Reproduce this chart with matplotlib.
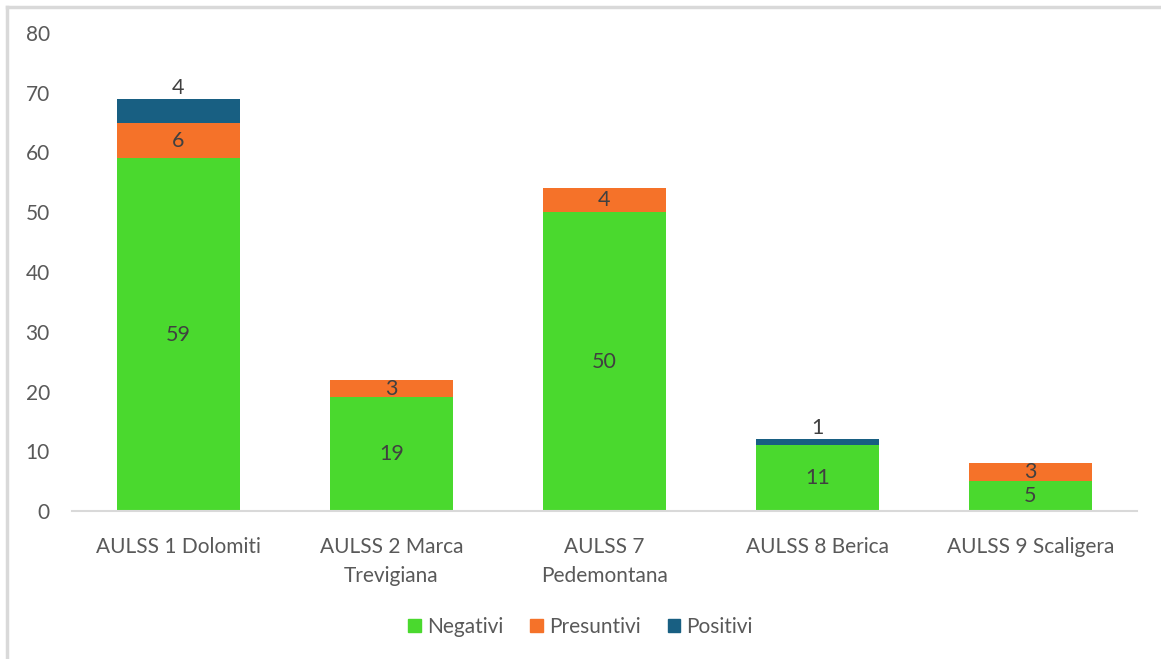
import matplotlib
matplotlib.use("Agg")

import matplotlib.pyplot as plt
import numpy as np
from matplotlib.lines import Line2D

# data
categories = ["AULSS 1 Dolomiti", "AULSS 2 Marca\nTrevigiana", "AULSS 7\nPedemontana",
              "AULSS 8 Berica", "AULSS 9 Scaligera"]
negativi = [59, 19, 50, 11, 5]
presuntivi = [6, 3, 4, 0, 3]
positivi = [4, 0, 0, 1, 0]

series_names = ["Negativi", "Presuntivi", "Positivi"]
colors = ["#4ad92e", "#f57229", "#185f82"]

plt.rcParams["font.family"] = ["Lato", "DejaVu Sans"]

fig = plt.figure(figsize=(11.61, 6.59), dpi=100)
ax = fig.add_axes([72 / 1161, 1 - 511 / 659, (1137 - 72) / 1161, (511 - 33) / 659])

x = np.arange(len(categories))
width = 0.573
label_color = "#404040"

bottom = np.zeros(len(categories))
for vals, name, col in zip([negativi, presuntivi, positivi], series_names, colors):
    vals = np.array(vals, dtype=float)
    ax.bar(x, vals, width, bottom=bottom, color=col, label=name, zorder=2)
    for i, v in enumerate(vals):
        if v <= 0:
            continue
        if name == "Positivi":
            ax.text(x[i], bottom[i] + v + 0.2, f"{int(v)}", ha="center", va="bottom",
                    fontsize=15.5, color=label_color)
        else:
            ax.text(x[i], bottom[i] + v / 2, f"{int(v)}", ha="center", va="center",
                    fontsize=15.5, color=label_color)
    bottom += vals

ax.set_xlim(-0.5, len(categories) - 0.5)
ax.set_ylim(0, 80)
ax.set_yticks(range(0, 81, 10))
ax.set_xticks(x)
ax.set_xticklabels(categories, linespacing=1.55)
ax.tick_params(axis="both", length=0, labelsize=15, colors="#595959")
ax.tick_params(axis="y", pad=16)
ax.tick_params(axis="x", pad=19)

for s in ["top", "right", "left"]:
    ax.spines[s].set_visible(False)
ax.spines["bottom"].set_color("#d9d9d9")
ax.spines["bottom"].set_linewidth(1.5)

handles = [plt.Rectangle((0, 0), 1, 1, color=c) for c in colors]
fig.legend(handles, series_names, loc="center", bbox_to_anchor=(0.5, 1 - 627 / 659),
           ncol=3, frameon=False, fontsize=15, labelcolor="#595959",
           handlelength=0.6, handleheight=0.6, handletextpad=0.3, columnspacing=1.3)

# light frame on the top and left edges of the image
fig.add_artist(Line2D([7 / 1161, 1], [1 - 7 / 659, 1 - 7 / 659], color="#d9d9d9", lw=2.5,
                      transform=fig.transFigure))
fig.add_artist(Line2D([7 / 1161, 7 / 1161], [0, 1 - 7 / 659], color="#d9d9d9", lw=2.5,
                      transform=fig.transFigure))

fig.savefig("out.png", dpi=100)
